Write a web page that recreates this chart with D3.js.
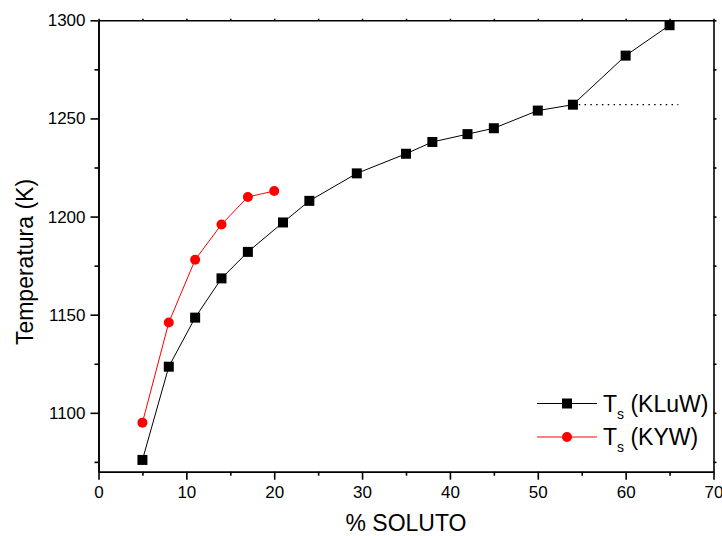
<!DOCTYPE html>
<html>
<head>
<meta charset="utf-8">
<script src="https://cdn.jsdelivr.net/npm/d3@7"></script>
<style>
  html, body { margin: 0; padding: 0; background: #fff; }
  svg { display: block; font-family: "Liberation Sans", Arial, Helvetica, sans-serif; }
</style>
</head>
<body>
<svg id="chart" width="722" height="536"></svg>
<script>
// ---- data ----
const kluwX = [5, 8, 11, 14, 17, 21, 24, 29.4, 35, 38, 42, 45, 50, 54, 60, 65];
const kluwY = [1076, 1123.5, 1148.5, 1168.5, 1182, 1197, 1208, 1222, 1232, 1238, 1242, 1245, 1254, 1257, 1282, 1297.5];
const kywX = [5, 8, 11, 14, 17, 20];
const kywY = [1095, 1146, 1178, 1196, 1210, 1213];
const dottedX = [54, 66];
const dottedY = [1257, 1257];
const xMajorTicks = [0, 10, 20, 30, 40, 50, 60, 70];
const xMinorTicks = [5, 15, 25, 35, 45, 55, 65];
const yMajorTicks = [1100, 1150, 1200, 1250, 1300];
const yMinorTicks = [1075, 1125, 1175, 1225, 1275];
const xTitle = "% SOLUTO";
const yTitle = "Temperatura (K)";
const legendNames = ["(KLuW)", "(KYW)"];

// ---- layout ----
const svg = d3.select("#chart");
const L = 98.5, R = 713.5, T = 20.3, B = 471.7;
const x = d3.scaleLinear().domain([0, 70]).range([L, R]);
const y = d3.scaleLinear().domain([1070, 1300]).range([B, T]);

const axisW = 1.6;
function styleAxis(g) {
  g.select(".domain").attr("stroke", "#000").attr("stroke-width", axisW);
  g.selectAll(".tick line").attr("stroke", "#000").attr("stroke-width", axisW);
  g.selectAll(".tick text").attr("fill", "#000");
}

// bottom axis major + minor
svg.append("g").attr("transform", `translate(0,${B})`)
  .call(d3.axisBottom(x).tickValues(xMajorTicks).tickSize(8).tickSizeOuter(0).tickPadding(6).tickFormat(d3.format("d")))
  .call(styleAxis)
  .call(g => g.selectAll(".tick text").attr("font-size", 17).attr("font-family", "Liberation Sans, Arial, sans-serif"));
svg.append("g").attr("transform", `translate(0,${B})`)
  .call(d3.axisBottom(x).tickValues(xMinorTicks).tickSize(4).tickSizeOuter(0).tickFormat(""))
  .call(styleAxis);
// top axis
svg.append("g").attr("transform", `translate(0,${T})`)
  .call(d3.axisTop(x).tickValues(xMajorTicks.concat(xMinorTicks)).tickSize(1.5).tickSizeOuter(0).tickFormat(""))
  .call(styleAxis);

// left axis major + minor
svg.append("g").attr("transform", `translate(${L},0)`)
  .call(d3.axisLeft(y).tickValues(yMajorTicks).tickSize(8).tickSizeOuter(0).tickPadding(5).tickFormat(d3.format("d")))
  .call(styleAxis)
  .call(g => g.selectAll(".tick text").attr("font-size", 17).attr("font-family", "Liberation Sans, Arial, sans-serif"));
svg.append("g").attr("transform", `translate(${L},0)`)
  .call(d3.axisLeft(y).tickValues(yMinorTicks).tickSize(4).tickSizeOuter(0).tickFormat(""))
  .call(styleAxis);
// right axis
svg.append("g").attr("transform", `translate(${R},0)`)
  .call(d3.axisRight(y).tickValues(yMajorTicks.concat(yMinorTicks)).tickSize(3).tickSizeOuter(0).tickFormat(""))
  .call(styleAxis);

// titles
svg.append("text").attr("x", (L + R) / 2).attr("y", 531)
  .attr("text-anchor", "middle").attr("font-size", 23).text(xTitle);
svg.append("text").attr("transform", `translate(33,${(T + B) / 2 + 16}) rotate(-90)`)
  .attr("text-anchor", "middle").attr("font-size", 23).text(yTitle);

// ---- series ----
const kluw = kluwX.map((v, i) => [v, kluwY[i]]);
const kyw = kywX.map((v, i) => [v, kywY[i]]);
const dotted = dottedX.map((v, i) => [v, dottedY[i]]);
const line = d3.line().x(d => x(d[0])).y(d => y(d[1]));

svg.append("path").datum(dotted).attr("d", line)
  .attr("fill", "none").attr("stroke", "#000").attr("stroke-width", 1.3).attr("stroke-dasharray", "1.5,4.3");

svg.append("path").datum(kluw).attr("d", line)
  .attr("fill", "none").attr("stroke", "#000").attr("stroke-width", 1);
svg.append("path").datum(kyw).attr("d", line)
  .attr("fill", "none").attr("stroke", "#ff0000").attr("stroke-width", 1);

const sq = 10;
svg.append("g").selectAll("rect").data(kluw).join("rect")
  .attr("x", d => x(d[0]) - sq / 2).attr("y", d => y(d[1]) - sq / 2)
  .attr("width", sq).attr("height", sq).attr("fill", "#000");
svg.append("g").selectAll("circle").data(kyw).join("circle")
  .attr("cx", d => x(d[0])).attr("cy", d => y(d[1])).attr("r", 5).attr("fill", "#ff0000");

// ---- legend ----
const legend = [
  { name: legendNames[0], color: "#000", shape: "square", y: 403.5 },
  { name: legendNames[1], color: "#ff0000", shape: "circle", y: 437 }
];
const lg = svg.append("g");
legend.forEach(it => {
  lg.append("line").attr("x1", 537).attr("x2", 597).attr("y1", it.y).attr("y2", it.y)
    .attr("stroke", it.color).attr("stroke-width", 1);
  if (it.shape === "square") {
    lg.append("rect").attr("x", 567 - sq / 2).attr("y", it.y - sq / 2).attr("width", sq).attr("height", sq).attr("fill", it.color);
  } else {
    lg.append("circle").attr("cx", 567).attr("cy", it.y).attr("r", 5).attr("fill", it.color);
  }
  const t = lg.append("text").attr("x", 603).attr("y", it.y + 8).attr("font-size", 23).attr("fill", "#000");
  t.append("tspan").text("T");
  t.append("tspan").attr("font-size", 14).attr("dy", 7).text("s");
  t.append("tspan").attr("dy", -7).text(" " + it.name);
});
</script>
</body>
</html>
